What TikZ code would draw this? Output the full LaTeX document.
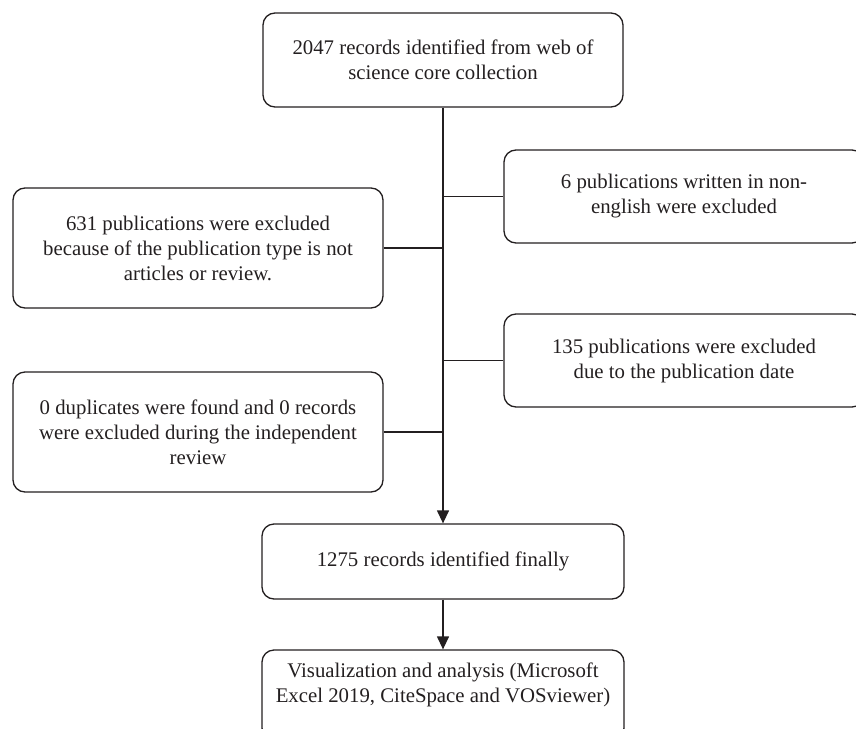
\documentclass[tikz,border=0pt]{standalone}
\usepackage{fontspec}
\setmainfont{Liberation Serif}
\usetikzlibrary{arrows.meta}
\definecolor{ln}{HTML}{231F20}
\begin{document}
\begin{tikzpicture}[x=1pt,y=-1pt,
  box/.style={draw=ln, line width=1.3pt, rounded corners=12pt, align=center,
    font=\fontsize{20.8}{25}\selectfont, inner sep=0pt, text=ln},
  conn/.style={draw=ln, line width=1.3pt},
  arr/.style={conn, -{Triangle[length=13pt,width=12pt]}}]
\clip (0,0) rectangle (856,728);
\node[box, minimum width=360pt, minimum height=94pt] (top) at (443,60)
  {2047 records identified from web of\\science core collection};
\node[box, minimum width=360pt, minimum height=93pt] (right1) at (684,196.5)
  {6 publications written in non-\\english were excluded};
\node[box, minimum width=370pt, minimum height=120pt] (left1) at (198,248)
  {631 publications were excluded\\because of the publication type is not\\articles or review.};
\node[box, minimum width=360pt, minimum height=93pt] (right2) at (684,360.5)
  {135 publications were excluded\\due to the publication date};
\node[box, minimum width=370pt, minimum height=120pt] (left2) at (198,432)
  {0 duplicates were found and 0 records\\were excluded during the independent\\review};
\node[box, minimum width=362pt, minimum height=75pt] (fin) at (443,561.5)
  {1275 records identified finally};
\node[box, minimum width=362pt, minimum height=90pt] (bot) at (443,695)
  {Visualization and analysis (Microsoft\\Excel 2019, CiteSpace and VOSviewer)\\\mbox{}};
\draw[arr] (top.south) -- (fin.north);
\draw[conn] (right1.west) -- (right1.west -| top.south);
\draw[conn] (left1.east) -- (left1.east -| top.south);
\draw[conn] (right2.west) -- (right2.west -| top.south);
\draw[conn] (left2.east) -- (left2.east -| top.south);
\draw[arr] (fin.south) -- (bot.north);
\end{tikzpicture}
\end{document}
